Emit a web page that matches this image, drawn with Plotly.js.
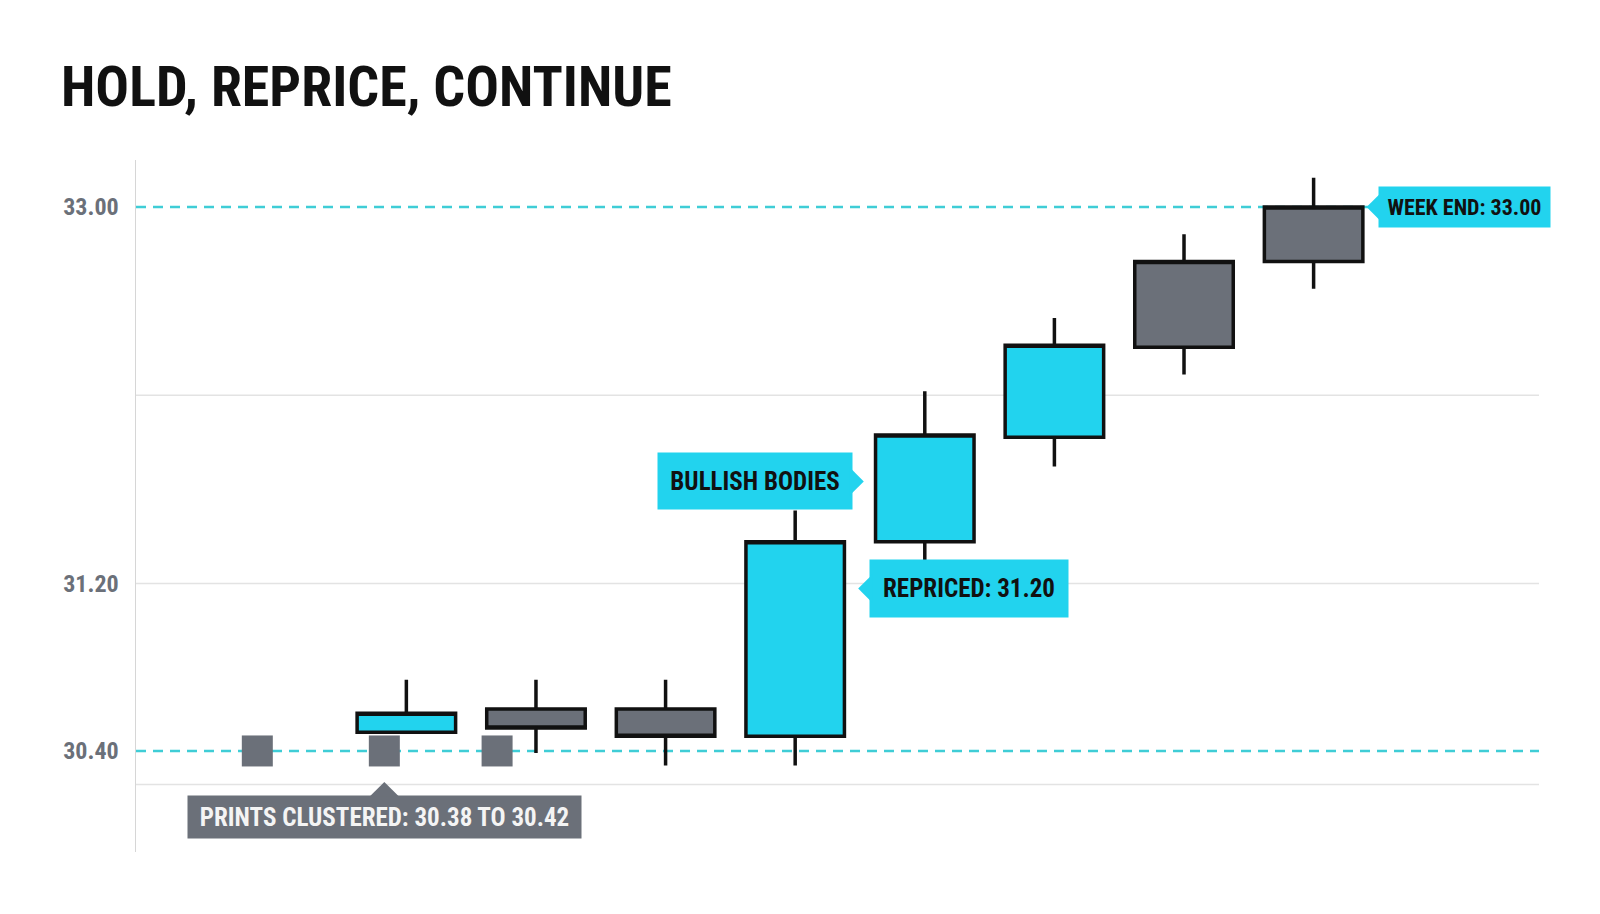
<!DOCTYPE html>
<html>
<head>
<meta charset="utf-8">
<script src="https://cdn.plot.ly/plotly-3.0.1.min.js"></script>
<style>html,body{margin:0;padding:0;background:#fff}</style>
</head>
<body>
<div id="chart" style="width:1600px;height:914px"></div>
<script>
// bullish (cyan) sessions
const bullX = [2, 5, 6, 7];
const bullOpen = [30.49, 30.47, 31.40, 31.90];
const bullHigh = [30.74, 31.55, 32.12, 32.47];
const bullLow = [30.49, 30.33, 31.28, 31.76];
const bullClose = [30.58, 31.40, 31.91, 32.34];

// gray sessions
const grayX = [3, 4, 8, 9];
const grayOpen = [30.60, 30.60, 32.33, 32.74];
const grayHigh = [30.74, 30.74, 32.87, 33.14];
const grayLow = [30.39, 30.33, 32.20, 32.61];
const grayClose = [30.51, 30.47, 32.74, 33.00];

// early prints, clustered near 30.40
const printX = [0.85, 1.83, 2.70];
const printY = [30.40, 30.40, 30.40];

const tickVals = [30.40, 31.20, 33.00];
const tickText = ['30.40', '31.20', '33.00'];
const gridVals = [30.24, 31.20, 32.10];
const levelVals = [33.00, 30.40];

const FONT = 'Roboto Condensed, Liberation Sans Narrow, Arial Narrow, DejaVu Sans Condensed, Roboto, sans-serif';
const CYAN = '#22d3ee';
const GRAY = '#6b7079';
const INK = '#111111';


function candleTrace(x, o, h, l, c, fill) {
    const side = { line: { color: INK, width: 3.5 }, fillcolor: fill };
    return {
        type: 'candlestick',
        x: x, open: o, high: h, low: l, close: c,
        increasing: side,
        decreasing: side,
        whiskerwidth: 0,
        hoverinfo: 'skip',
        showlegend: false
    };
}


const prints = {
    x: printX,
    y: printY,
    type: 'scatter',
    mode: 'markers',
    marker: { symbol: 'square', size: 31, color: GRAY, line: { width: 0 } },
    hoverinfo: 'skip',
    showlegend: false
};

const data = [
    prints,
    candleTrace(grayX, grayOpen, grayHigh, grayLow, grayClose, GRAY),
    candleTrace(bullX, bullOpen, bullHigh, bullLow, bullClose, CYAN)
];

const shapes = [];
gridVals.forEach(v => shapes.push({
    type: 'line', xref: 'paper', x0: 0, x1: 1, yref: 'y', y0: v, y1: v,
    line: { color: '#e3e3e3', width: 1.5 }, layer: 'below'
}));
levelVals.forEach(v => shapes.push({
    type: 'line', xref: 'paper', x0: 0, x1: 1, yref: 'y', y0: v, y1: v,
    line: { color: '#3fcdd6', width: 2.5, dash: '10px,7px' }, layer: 'below'
}));

function callout(text, x, y, xshift, yshift, ax, ay, w, h, size, bg, fg) {
    return {
        x: x, y: y, xref: 'x', yref: 'y',
        text: text,
        showarrow: true, arrowhead: 1, arrowsize: 2.4, arrowwidth: 2, arrowcolor: bg,
        ax: ax, ay: ay, xshift: xshift, yshift: yshift,
        bgcolor: bg, borderpad: 0, width: w, height: h,
        font: { family: FONT, size: size, color: fg, weight: 700 }
    };
}

const annotations = [
    callout('WEEK END: 33.00', grayX[3], grayClose[3], 53, 0, 98, 0, 171, 40, 22, CYAN, INK),
    callout('BULLISH BODIES', bullX[2], (bullOpen[2] + bullClose[2]) / 2, -61, 7, -109, 0, 194, 56, 25, CYAN, INK),
    callout('REPRICED: 31.20', bullX[1], 31.20, 63, -5, 111, 0, 198, 57, 25, CYAN, INK),
    callout('PRINTS CLUSTERED: 30.38 TO 30.42', printX[1], printY[1], 0, -31, 0, 35, 393, 42, 25, GRAY, '#f4f4f4')
];

const layout = {
    width: 1600,
    height: 914,
    margin: { l: 136, r: 61, t: 160, b: 62 },
    paper_bgcolor: '#ffffff',
    plot_bgcolor: '#ffffff',
    showlegend: false,
    hovermode: false,
    boxgap: 0.24,
    boxgroupgap: 0,
    title: {
        text: 'HOLD, REPRICE, CONTINUE',
        xref: 'container', x: 61 / 1600, xanchor: 'left',
        yref: 'container', y: 1 - 86 / 914, yanchor: 'middle',
        font: { family: FONT, size: 56, color: INK, weight: 700 }
    },
    xaxis: {
        range: [-0.086, 10.739],
        showgrid: false,
        zeroline: false,
        showline: false,
        showticklabels: false,
        ticks: '',
        rangeslider: { visible: false },
        fixedrange: true
    },
    yaxis: {
        range: [29.917, 33.225],
        tickmode: 'array',
        tickvals: tickVals,
        ticktext: tickText,
        showgrid: false,
        zeroline: false,
        showline: true,
        linecolor: '#d6d6d6',
        linewidth: 1.5,
        ticks: '',
        ticklabelstandoff: 11,
        tickfont: { family: FONT, size: 24, color: GRAY, weight: 700 },
        fixedrange: true
    },
    shapes: shapes,
    annotations: annotations
};

Plotly.newPlot('chart', data, layout, { displayModeBar: false, staticPlot: true });
</script>
</body>
</html>
